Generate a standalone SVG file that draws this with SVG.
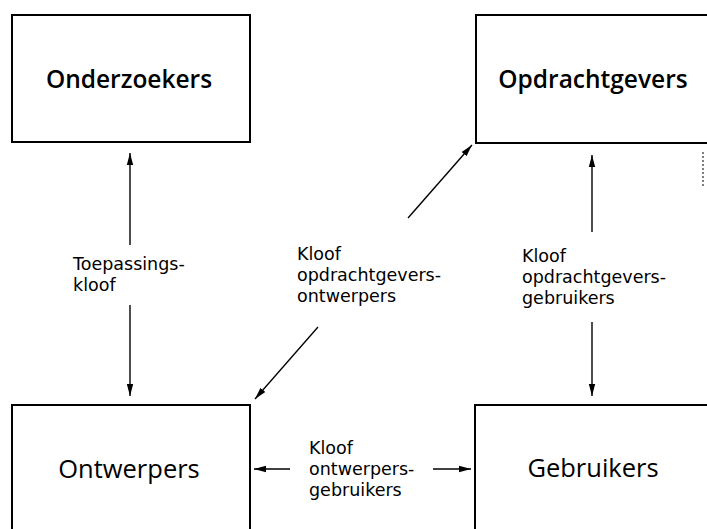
<svg xmlns="http://www.w3.org/2000/svg" width="707" height="529" viewBox="0 0 707 529">
<defs>
<style>
.box{fill:#fff;stroke:#000;stroke-width:2}
.title{font-family:"Open Sans","Liberation Sans",sans-serif;font-size:25.5px;fill:#000;text-anchor:middle}
.bold{font-weight:600;font-size:24.5px}
.lbl{font-family:"DejaVu Sans","Liberation Sans",sans-serif;font-size:17.5px;fill:#000}
.conn{stroke:#000;stroke-width:1.4;fill:none;marker-end:url(#ah)}
</style>
<marker id="ah" viewBox="0 0 12 8" refX="12" refY="4" markerWidth="12" markerHeight="8" markerUnits="userSpaceOnUse" orient="auto">
<path d="M0,0.8 L12,4 L0,7.2 Z" fill="#000"/>
</marker>
</defs>
<rect width="707" height="529" fill="#fff"/>
<g id="onderzoekers">
<rect class="box" x="12" y="15" width="238" height="127"/>
<text class="title bold" x="129" y="88">Onderzoekers</text>
</g>
<g id="opdrachtgevers">
<rect class="box" x="476" y="15" width="260" height="128"/>
<text class="title bold" x="593" y="88">Opdrachtgevers</text>
</g>
<g id="ontwerpers">
<rect class="box" x="12" y="405" width="238" height="140"/>
<text class="title" x="129" y="478">Ontwerpers</text>
</g>
<g id="gebruikers">
<rect class="box" x="475" y="405" width="260" height="140"/>
<text class="title" x="593" y="477">Gebruikers</text>
</g>
<g id="connectors">
<line class="conn" x1="130" y1="245" x2="130" y2="153"/>
<line class="conn" x1="130" y1="305" x2="130" y2="396"/>
<line class="conn" x1="592" y1="232" x2="592" y2="155"/>
<line class="conn" x1="592" y1="322" x2="592" y2="396"/>
<line class="conn" x1="408" y1="218" x2="472" y2="145"/>
<line class="conn" x1="318" y1="327" x2="255" y2="399"/>
<line class="conn" x1="290" y1="469" x2="254" y2="469"/>
<line class="conn" x1="433" y1="469" x2="471" y2="469"/>
</g>
<g id="labels">
<text class="lbl" x="73" y="270">Toepassings-</text>
<text class="lbl" x="73" y="291">kloof</text>
<text class="lbl" x="297" y="260">Kloof</text>
<text class="lbl" x="297" y="281">opdrachtgevers-</text>
<text class="lbl" x="297" y="302">ontwerpers</text>
<text class="lbl" x="522" y="262">Kloof</text>
<text class="lbl" x="522" y="283">opdrachtgevers-</text>
<text class="lbl" x="522" y="304">gebruikers</text>
<text class="lbl" x="309" y="454">Kloof</text>
<text class="lbl" x="309" y="475">ontwerpers-</text>
<text class="lbl" x="309" y="496">gebruikers</text>
</g>
<line x1="703" y1="152" x2="703" y2="186" stroke="#555" stroke-width="1.5" stroke-dasharray="2 2"/>
</svg>
